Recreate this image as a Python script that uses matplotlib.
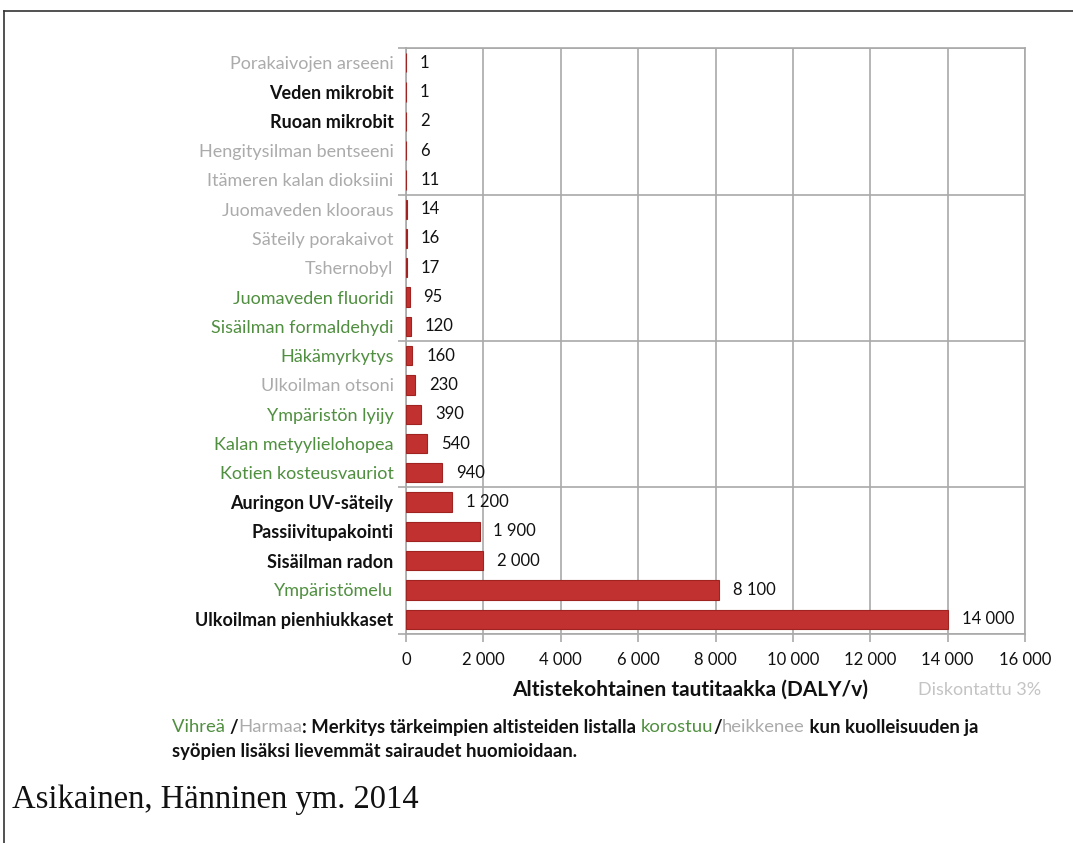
import numpy as np
import matplotlib.pyplot as plt
from matplotlib.lines import Line2D

plt.rcParams['font.family'] = ['Lato', 'DejaVu Sans']

categories = ['Porakaivojen arseeni', 'Veden mikrobit', 'Ruoan mikrobit',
              'Hengitysilman bentseeni', 'Itämeren kalan dioksiini',
              'Juomaveden klooraus', 'Säteily porakaivot', 'Tshernobyl',
              'Juomaveden fluoridi', 'Sisäilman formaldehydi',
              'Häkämyrkytys', 'Ulkoilman otsoni', 'Ympäristön lyijy',
              'Kalan metyylielohopea', 'Kotien kosteusvauriot',
              'Auringon UV-säteily', 'Passiivitupakointi', 'Sisäilman radon',
              'Ympäristömelu', 'Ulkoilman pienhiukkaset']
values = [1, 1, 2, 6, 11, 14, 16, 17, 95, 120, 160, 230, 390, 540, 940,
          1200, 1900, 2000, 8100, 14000]
# g = green (korostuu), h = grey (heikkenee), k = black
groups = ['h', 'k', 'k', 'h', 'h', 'h', 'h', 'h', 'g', 'g',
          'g', 'h', 'g', 'g', 'g', 'k', 'k', 'k', 'g', 'k']
xticks = [0, 2000, 4000, 6000, 8000, 10000, 12000, 14000, 16000]

GREEN = '#4f8f3f'
GREY = '#ababab'
BLACK = '#111111'
RED = '#c1312f'
GRID = '#a9a9a9'
colmap = {'g': GREEN, 'h': GREY, 'k': BLACK}


def fmt(v):
    return f"{v:,}".replace(",", " ")


fig = plt.figure(figsize=(10.73, 8.43), dpi=100)
ax = fig.add_axes([0.3784, 0.248, 0.5769, 0.695])

y = np.arange(len(categories))
ax.barh(y, values, height=0.66, color=RED, edgecolor='#9e2321', linewidth=0.8, zorder=3)
for yi, v in zip(y, values):
    ax.annotate(fmt(v), (v, yi), xytext=(10, 0), textcoords='offset points',
                va='center', ha='left', fontsize=12, color=BLACK)

ax.set_xlim(0, 16000)
ax.set_ylim(len(categories) - 0.5, -0.5)
ax.set_xticks(xticks)
ax.set_xticklabels([fmt(t) for t in xticks], fontsize=12, color=BLACK)
ax.set_yticks(np.arange(-0.5, len(categories), 5))
ax.set_yticklabels([])
ax.set_yticks(y, minor=True)
ax.set_yticklabels(categories, minor=True)
ax.tick_params(axis='y', which='minor', length=0, pad=9, labelsize=13)
ax.tick_params(axis='y', which='major', length=6, color=GRID, width=1.2)
ax.tick_params(axis='x', length=6, color=GRID, width=1.2, pad=7)
for lab, g in zip(ax.get_yticklabels(minor=True), groups):
    lab.set_color(colmap[g])
    if g == 'k':
        lab.set_fontweight('bold')

ax.grid(True, which='major', color=GRID, linewidth=1.2, zorder=0)
for s in ax.spines.values():
    s.set_color(GRID)
    s.set_linewidth(1.2)

fig.text(690 / 1073, 1 - 690 / 843, 'Altistekohtainen tautitaakka (DALY/v)', fontsize=15,
         fontweight='bold', color=BLACK, ha='center', va='center')
fig.text(918 / 1073, 1 - 690 / 843, 'Diskontattu 3%', fontsize=13, color='#c4c4c4', va='center')

# note text with coloured pieces
pieces1 = [('Vihreä ', GREEN), ('/', BLACK), ('Harmaa', GREY),
           (': Merkitys tärkeimpien altisteiden listalla ', BLACK),
           ('korostuu', GREEN), ('/', BLACK), ('heikkenee', GREY),
           (' kun kuolleisuuden ja', BLACK)]
pieces2 = [('syöpien lisäksi lievemmät sairaudet huomioidaan.', BLACK)]

renderer = fig.canvas.get_renderer()
for pieces, ypix in [(pieces1, 727), (pieces2, 751)]:
    xpx = 172
    for txt, c in pieces:
        t = fig.text(xpx / 1073, 1 - ypix / 843, txt, fontsize=13.3, color=c, va='center',
                     fontweight='bold' if c == BLACK else 'normal')
        bb = t.get_window_extent(renderer)
        xpx = bb.x1

fig.text(12 / 1073, 1 - 800 / 843, 'Asikainen, Hänninen ym. 2014', fontsize=23.5,
         family=['Liberation Serif', 'DejaVu Serif'], color=BLACK, va='center')

# slide border
fig.add_artist(Line2D([4 / 1073, 1], [1 - 11 / 843, 1 - 11 / 843], color='#333333', lw=1.2))
fig.add_artist(Line2D([4 / 1073, 4 / 1073], [0, 1 - 11 / 843], color='#333333', lw=1.2))

fig.savefig('out.png', dpi=100)
